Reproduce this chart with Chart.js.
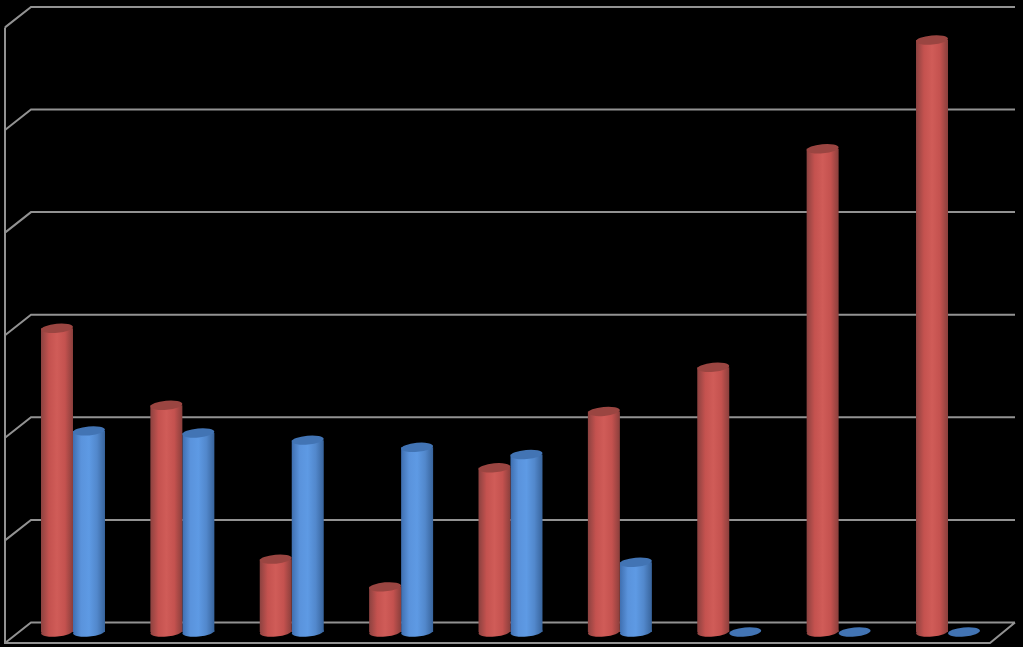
<!DOCTYPE html>
<html>
<head>
<meta charset="utf-8">
<style>
html, body { margin: 0; padding: 0; background: #000; overflow: hidden; }
canvas { display: block; }
</style>
<script src="https://cdn.jsdelivr.net/npm/chart.js@4"></script>
</head>
<body>
<canvas id="myChart" width="1023" height="647"></canvas>
<script>
const categories = ['1', '2', '3', '4', '5', '6', '7', '8', '9'];
const redValues = [2.96, 2.21, 0.71, 0.44, 1.60, 2.15, 2.58, 4.71, 5.77];
const blueValues = [1.96, 1.94, 1.87, 1.80, 1.73, 0.68, 0, 0, 0];
const yTicks = [0, 1, 2, 3, 4, 5, 6];

const redStops = ['#8c4240', '#c4524f', '#d05c58', '#c4524f', '#8a3f3c'];
const blueStops = ['#3f6fb0', '#5a93dc', '#5e9ae4', '#5288cc', '#38649c'];
const redTop = '#9a4541';
const blueTop = '#4274b4';

const GROUP_FRACTION = 0.585;
const WALL_BACK = 9.5, WALL_FRONT = 11;
const ELLIPSE_RY = 4.5;
const ELLIPSE_TILT = -0.09;

function barGradient(chart, x, width, stops) {
    const g = chart.ctx.createLinearGradient(x - width / 2, 0, x + width / 2, 0);
    const pos = [0, 0.25, 0.5, 0.75, 1];
    stops.forEach((c, i) => g.addColorStop(pos[i], c));
    return g;
}

function barFill(context, stops) {
    const chart = context.chart;
    const xScale = chart.scales.x;
    if (!xScale || context.dataIndex === undefined) return stops[1];
    const step = xScale.getPixelForValue(1) - xScale.getPixelForValue(0);
    const w = step * GROUP_FRACTION / 2;
    const cx = xScale.getPixelForValue(context.dataIndex) + (context.datasetIndex === 0 ? -w / 2 : w / 2);
    if (!isFinite(cx) || !isFinite(w)) return stops[1];
    return barGradient(chart, cx, w, stops);
}

// the wall and floor lines, behind the bars
const wallPlugin = {
    id: 'wall',
    beforeDatasetsDraw(chart) {
        const ctx = chart.ctx;
        const y = chart.scales.y;
        const front = 5, back = 31, right = 1015, floorRight = 990;
        ctx.save();
        ctx.strokeStyle = '#929292';
        ctx.lineWidth = 2;
        ctx.beginPath();
        yTicks.forEach(t => {
            const py = y.getPixelForValue(t);
            ctx.moveTo(front, py + WALL_FRONT);
            ctx.lineTo(back, py - WALL_BACK);
            ctx.lineTo(right, py - WALL_BACK);
        });
        const p0 = y.getPixelForValue(0);
        ctx.moveTo(front, y.getPixelForValue(yTicks[yTicks.length - 1]) + WALL_FRONT);
        ctx.lineTo(front, p0 + WALL_FRONT);
        ctx.lineTo(floorRight, p0 + WALL_FRONT);
        ctx.lineTo(right, p0 - WALL_BACK);
        ctx.stroke();
        ctx.restore();

        // rounded feet of the cylinders
        [redStops, blueStops].forEach((stops, i) => {
            chart.getDatasetMeta(i).data.forEach(bar => {
                if (bar.base - bar.y < 1) return;
                ctx.save();
                ctx.fillStyle = barGradient(chart, bar.x, bar.width, stops);
                ctx.beginPath();
                ctx.ellipse(bar.x, bar.base, bar.width / 2, ELLIPSE_RY, ELLIPSE_TILT, 0, Math.PI * 2);
                ctx.fill();
                ctx.restore();
            });
        });
    },
    afterDatasetsDraw(chart) {
        const ctx = chart.ctx;
        [redTop, blueTop].forEach((color, i) => {
            chart.getDatasetMeta(i).data.forEach(bar => {
                ctx.save();
                ctx.fillStyle = color;
                ctx.beginPath();
                ctx.ellipse(bar.x, bar.y, bar.width / 2, ELLIPSE_RY, ELLIPSE_TILT, 0, Math.PI * 2);
                ctx.fill();
                ctx.restore();
            });
        });
    }
};

const config = {
    type: 'bar',
    data: {
        labels: categories,
        datasets: [{
            data: redValues,
            backgroundColor: c => barFill(c, redStops),
            borderWidth: 0
        }, {
            data: blueValues,
            backgroundColor: c => barFill(c, blueStops),
            borderWidth: 0
        }]
    },
    options: {
        responsive: false,
        animation: false,
        devicePixelRatio: 1,
        layout: { padding: { left: 18.3, right: 20.3, top: 16.4, bottom: 15 } },
        datasets: { bar: { categoryPercentage: GROUP_FRACTION, barPercentage: 1 } },
        plugins: { legend: { display: false }, title: { display: false }, tooltip: { enabled: false } },
        scales: {
            x: { display: false },
            y: { display: false, min: 0, max: 6, beginAtZero: true }
        }
    },
    plugins: [wallPlugin]
};

const myChart = new Chart(document.getElementById('myChart').getContext('2d'), config);
</script>
</body>
</html>
